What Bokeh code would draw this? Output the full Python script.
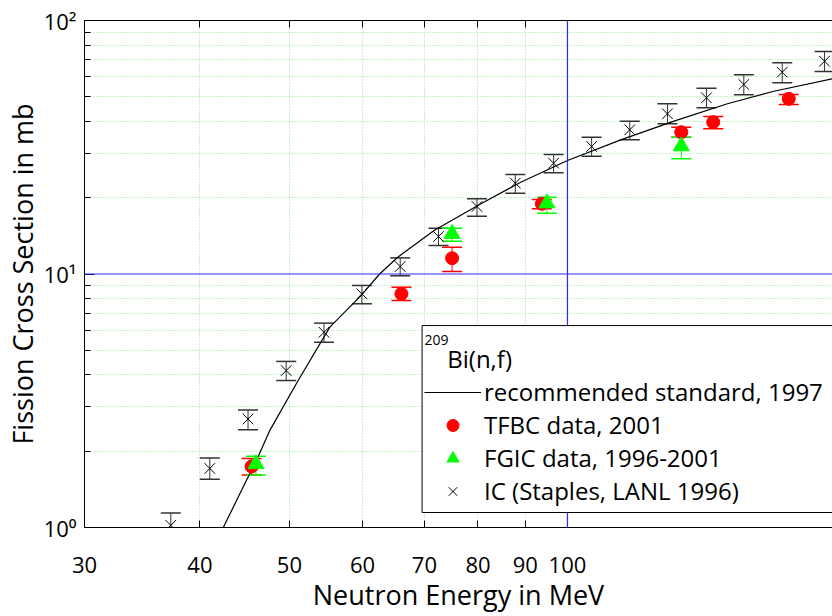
from bokeh.plotting import figure
from bokeh.models import (Range1d, FixedTicker, LogAxis, Span, Whisker, ColumnDataSource,
                          Legend, LegendItem, Label, TeeHead, PrintfTickFormatter,
                          BoxAnnotation, CustomJSTickFormatter)
from bokeh.embed import file_html
from bokeh.resources import INLINE

FONT = "Open Sans"

# ---- data ----
x_ticks = [30, 40, 50, 60, 70, 80, 90, 100, 200]
x_grid_ticks = [40, 50, 60, 70, 80, 90]
y_ticks = [1, 10, 100]
y_minor = [2, 3, 4, 5, 6, 7, 8, 9, 20, 30, 40, 50, 60, 70, 80, 90]
y_tick_labels = {1: "10\u2070", 10: "10\u00b9", 100: "10\u00b2"}

# recommended standard, 1997
E_std = [42.4, 46.2, 47.6, 51.1, 55.3, 59.8, 62.6, 65.5, 71.7, 80.6, 89.0,
         100.0, 114.2, 130.4, 149.0, 167.3, 193.5]
s_std = [1.00, 1.89, 2.41, 3.80, 6.17, 8.23, 10.0, 11.65, 14.85, 18.92, 23.02,
         28.04, 33.83, 40.07, 46.93, 52.6, 58.9]

# IC (Staples, LANL 1996)
E_ic = [37.2, 41.0, 45.1, 49.6, 54.5, 59.9, 65.9, 72.5, 79.8, 87.8, 96.6, 106.2,
        116.8, 128.3, 141.4, 155.2, 170.8, 189.8]
s_ic = [1.02, 1.71, 2.68, 4.16, 5.89, 8.35, 10.70, 14.06, 18.46, 22.82, 27.36, 31.84,
        37.06, 42.85, 49.55, 55.92, 62.54, 69.09]
s_ic_hi = [1.14, 1.88, 2.91, 4.52, 6.40, 9.01, 11.58, 15.16, 19.8, 24.69, 29.6, 34.65,
           40.07, 46.93, 54.08, 61.07, 68.09, 75.45]
s_ic_lo = [0.92, 1.55, 2.43, 3.80, 5.38, 7.63, 9.84, 12.95, 16.9, 20.84, 25.07, 29.15,
           33.84, 39.13, 45.25, 50.93, 56.8, 62.9]

# TFBC data, 2001
E_tf = [45.5, 66.1, 75.0, 93.8, 132.8, 143.8, 173.6]
s_tf = [1.74, 8.35, 11.54, 18.92, 36.26, 39.70, 49.10]
s_tf_hi = [1.87, 8.87, 12.76, 19.67, 37.94, 41.81, 51.05]
s_tf_lo = [1.61, 7.86, 10.23, 18.08, 34.65, 37.39, 46.63]

# FGIC data, 1996-2001
E_fg = [46.0, 75.0, 95.0, 132.8]
s_fg = [1.78, 14.41, 19.03, 31.93]
s_fg_hi = [1.91, 15.16, 20.09, 34.65]
s_fg_lo = [1.61, 13.47, 17.37, 28.48]

RED = "#ff0000"
GREEN = "#00ff00"
GRID = "#8fe88f"
BLUE = "#2a2aff"

p = figure(width=832, height=616, x_axis_type="log", y_axis_type="log",
           x_range=Range1d(30, 193.6), y_range=Range1d(1, 100),
           output_backend="svg", toolbar_location=None,
           min_border_left=83, min_border_right=0, min_border_top=20, min_border_bottom=89)
p.outline_line_color = None
p.background_fill_color = "white"

# axes
for ax in p.xaxis:
    ax.ticker = FixedTicker(ticks=x_ticks, minor_ticks=[])
    ax.formatter = PrintfTickFormatter(format="%d")
    ax.major_tick_in = 7
    ax.major_tick_out = 0
    ax.minor_tick_in = 0
    ax.minor_tick_out = 0
    ax.axis_line_color = "black"
    ax.major_tick_line_color = "black"
    ax.major_label_text_font = FONT
    ax.major_label_text_font_size = "22px"
    ax.major_label_text_color = "black"
    ax.major_label_standoff = 29
    ax.axis_label = "Neutron Energy in MeV"
    ax.axis_label_text_font = FONT
    ax.axis_label_text_font_size = "27px"
    ax.axis_label_text_font_style = "normal"
    ax.axis_label_text_color = "black"
    ax.axis_label_standoff = 0

for ax in p.yaxis:
    ax.ticker = FixedTicker(ticks=y_ticks, minor_ticks=y_minor)
    ax.major_label_overrides = y_tick_labels
    ax.major_tick_in = 10
    ax.major_tick_out = 0
    ax.minor_tick_in = 6
    ax.minor_tick_out = 0
    ax.axis_line_color = "black"
    ax.major_tick_line_color = "black"
    ax.minor_tick_line_color = "black"
    ax.major_label_text_font = FONT
    ax.major_label_text_font_size = "22px"
    ax.major_label_text_color = "black"
    ax.major_label_standoff = 8
    ax.axis_label = "Fission Cross Section in mb"
    ax.axis_label_text_font = FONT
    ax.axis_label_text_font_size = "27px"
    ax.axis_label_text_font_style = "normal"
    ax.axis_label_text_color = "black"
    ax.axis_label_standoff = 0

top = LogAxis(ticker=FixedTicker(ticks=x_ticks, minor_ticks=[]),
              formatter=CustomJSTickFormatter(code="return ''"),
              major_tick_in=7, major_tick_out=0, minor_tick_in=0, minor_tick_out=0,
              major_label_standoff=0,
              axis_line_color="black", major_tick_line_color="black")
p.add_layout(top, "above")

# grid
p.xgrid.ticker = FixedTicker(ticks=x_grid_ticks, minor_ticks=[])
p.ygrid.ticker = FixedTicker(ticks=y_minor, minor_ticks=[])
for g in (p.xgrid, p.ygrid):
    g.grid_line_color = GRID
    g.grid_line_dash = "1 2"
    g.grid_line_width = 1

p.add_layout(Span(location=100, dimension="height", line_color=BLUE, line_width=1.2))
p.add_layout(Span(location=10, dimension="width", line_color=BLUE, line_width=1.2))

# curve
r_line = p.line(E_std, s_std, line_color="black", line_width=1.2)

# error bars
def add_err(E, lo, hi, color):
    src = ColumnDataSource(dict(x=E, lower=lo, upper=hi))
    w = Whisker(base="x", lower="lower", upper="upper", source=src, dimension="height",
                line_color=color, line_width=1,
                upper_head=TeeHead(size=20, line_color=color, line_width=1.5),
                lower_head=TeeHead(size=20, line_color=color, line_width=1.5))
    p.add_layout(w)

add_err(E_ic, s_ic_lo, s_ic_hi, "#333333")
r_ic = p.scatter(E_ic, s_ic, marker="x", size=15, line_color="black", line_width=1)
add_err(E_tf, s_tf_lo, s_tf_hi, RED)
r_tf = p.scatter(E_tf, s_tf, marker="circle", size=13, fill_color=RED, line_color=RED)
add_err(E_fg, s_fg_lo, s_fg_hi, GREEN)
r_fg = p.scatter(E_fg, s_fg, marker="triangle", size=16, fill_color=GREEN, line_color=GREEN)

# legend box
p.add_layout(BoxAnnotation(left=69.6, right=1000, bottom=1.146, top=6.26,
                           fill_color="white", fill_alpha=1.0,
                           line_color="black", line_width=1, line_alpha=1.0,
                           level="annotation"))

legend = Legend(items=[
    LegendItem(label="recommended standard, 1997", renderers=[r_line]),
    LegendItem(label="TFBC data, 2001", renderers=[r_tf]),
    LegendItem(label="FGIC data, 1996-2001", renderers=[r_fg]),
    LegendItem(label="IC (Staples, LANL 1996)", renderers=[r_ic]),
], location=(340, 20), margin=0, padding=4, spacing=0,
    glyph_width=57, glyph_height=30, label_standoff=3, label_height=30,
    label_text_font=FONT, label_text_font_size="24px", label_text_color="black",
    border_line_color=None, background_fill_alpha=0.0)
p.add_layout(legend)

p.add_layout(Label(x=70.0, y=10 ** ((527 - 339) / 253.5), text="209",
                   text_font=FONT, text_font_size="14px", text_baseline="middle",
                   text_color="black", level="overlay"))
p.add_layout(Label(x=74.1, y=10 ** ((527 - 358) / 253.5), text="Bi(n,f)",
                   text_font=FONT, text_font_size="24px", text_baseline="middle",
                   text_color="black", level="overlay"))

open("out.html", "w").write(file_html(p, INLINE))
